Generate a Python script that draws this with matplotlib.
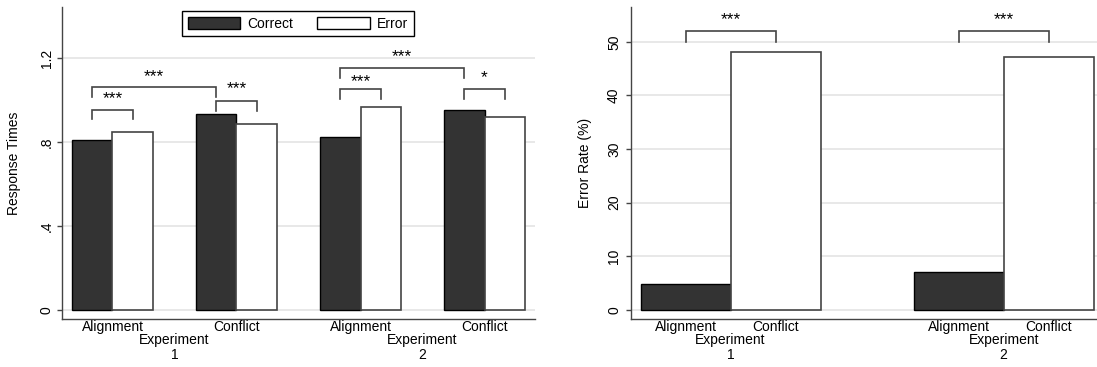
import matplotlib
matplotlib.use("Agg")
import matplotlib.pyplot as plt
from matplotlib.patches import Patch
import numpy as np

plt.rcParams['font.family'] = ['Liberation Sans', 'DejaVu Sans']

# ---- data ----
experiments = ['1', '2']
conditions = ['Alignment', 'Conflict']
rt_correct = [0.81, 0.933, 0.822, 0.954]   # Exp1 Align, Exp1 Conf, Exp2 Align, Exp2 Conf
rt_error = [0.845, 0.883, 0.964, 0.919]
er_alignment = [4.8, 7.0]    # error rate (%) per experiment
er_conflict = [48.1, 47.1]
rt_yticks = [0, 0.4, 0.8, 1.2]
rt_yticklabels = ['0', '.4', '.8', '1.2']
er_yticks = [0, 10, 20, 30, 40, 50]

# significance comparisons (left): (bar_a, bar_b, top, leg_bottom, label, label_y)
# bar index: (group, 0=correct/1=error)
rt_sig = [
    ((0, 0), (0, 1), 0.954, 0.907, '***', 1.026),
    ((0, 0), (1, 0), 1.062, 1.014, '***', 1.129),
    ((1, 0), (1, 1), 0.994, 0.945, '***', 1.075),
    ((2, 0), (2, 1), 1.054, 1.003, '***', 1.105),
    ((2, 0), (3, 0), 1.152, 1.105, '***', 1.226),
    ((3, 0), (3, 1), 1.054, 1.003, '*', 1.126),
]
er_sig = [
    (0, 52.0, 50.0, '***', 54.85),
    (1, 52.0, 50.0, '***', 54.85),
]

DARK = '#333333'
GRID = '#e4e4e4'
LINE = '#444444'
W = 0.33
STAR_FS = 12.5
STAR_OFF = -2.9

fig = plt.figure(figsize=(10.97, 3.67), dpi=100)
axL = fig.add_axes([62/1097, 1-318.7/367, (535-62)/1097, (318.7-7)/367])
axR = fig.add_axes([630.7/1097, 1-318.7/367, (1097-630.7)/1097, (318.7-7)/367])

def style(ax):
    for s in ['top', 'right']:
        ax.spines[s].set_visible(False)
    for s in ['left', 'bottom']:
        ax.spines[s].set_color(LINE)
        ax.spines[s].set_linewidth(1.0)
    ax.set_axisbelow(True)
    ax.yaxis.grid(True, color=GRID, linewidth=1.2)
    ax.tick_params(axis='x', length=0, pad=1, labelsize=10)
    ax.tick_params(axis='y', length=3.4, width=1.0, color=LINE, labelsize=10,
                   labelrotation=90)

# ---- left panel ----
x = np.arange(len(rt_correct))
axL.bar(x - W/2, rt_correct, W, color=DARK, edgecolor='black', linewidth=1.0, zorder=2)
axL.bar(x + W/2, rt_error, W, color='white', edgecolor=LINE, linewidth=1.2, zorder=2)
axL.set_xlim(-0.407, 3.407)
axL.set_ylim(-0.043, 1.443)
axL.set_yticks(rt_yticks)
axL.set_yticklabels(rt_yticklabels)
axL.set_xticks(x)
axL.set_xticklabels(conditions * len(experiments))
style(axL)
axL.tick_params(axis='y', pad=2.6)
for lab in axL.get_yticklabels():
    lab.set_va('center')
axL.set_ylabel('Response Times', fontsize=10)
axL.yaxis.set_label_coords(-0.0877, 0.5)

def barx(b):
    g, k = b
    return g - W/2 if k == 0 else g + W/2

for a, b, top, leg, lab, ly in rt_sig:
    xa, xb = barx(a), barx(b)
    axL.plot([xa, xa, xb, xb], [leg, top, top, leg], color=LINE, lw=1.2, zorder=3,
             solid_joinstyle='miter')
    axL.annotate(lab, xy=((xa+xb)/2, ly), xytext=(0, STAR_OFF), textcoords='offset points',
                 ha='center', va='center', fontsize=STAR_FS)

for i, e in enumerate(experiments):
    gx = 2*i + 0.5
    for txt, off in (('Experiment', -15.3), (e, -26.1)):
        axL.annotate(txt, xy=(gx, 0), xycoords=('data', 'axes fraction'),
                     xytext=(0, off), textcoords='offset points',
                     ha='center', va='center', fontsize=10)

axL.legend(handles=[Patch(facecolor=DARK, edgecolor='black', linewidth=1.0, label='Correct'),
                    Patch(facecolor='white', edgecolor='black', linewidth=1.0, label='Error')],
           ncol=2, loc='center', bbox_to_anchor=(298/1097, 1-23.5/367),
           bbox_transform=fig.transFigure, frameon=True, fancybox=False,
           edgecolor='black', framealpha=1, fontsize=10,
           handlelength=3.75, handleheight=0.95, handletextpad=0.55,
           columnspacing=1.75, borderpad=0.38, borderaxespad=0)
axL.get_legend().get_frame().set_linewidth(1.0)

# ---- right panel ----
xe = np.arange(len(experiments))
axR.bar(xe - W/2, er_alignment, W, color=DARK, edgecolor='black', linewidth=1.0, zorder=2)
axR.bar(xe + W/2, er_conflict, W, color='white', edgecolor=LINE, linewidth=1.2, zorder=2)
axR.set_xlim(-0.366, 1.342)
axR.set_ylim(-1.68, 56.5)
axR.set_yticks(er_yticks)
xt = []
for g in xe:
    xt += [g - W/2, g + W/2]
axR.set_xticks(xt)
axR.set_xticklabels(conditions * len(experiments))
style(axR)
axR.tick_params(axis='y', pad=3.5)
for lab in axR.get_yticklabels():
    lab.set_va('center')
axR.set_ylabel('Error Rate (%)', fontsize=10)
axR.yaxis.set_label_coords(-0.083, 0.5)

for g, top, leg, lab, ly in er_sig:
    xa, xb = g - W/2, g + W/2
    axR.plot([xa, xa, xb, xb], [leg, top, top, leg], color=LINE, lw=1.2, zorder=3,
             solid_joinstyle='miter')
    axR.annotate(lab, xy=(g, ly), xytext=(0, STAR_OFF), textcoords='offset points',
                 ha='center', va='center', fontsize=STAR_FS)

for i, e in enumerate(experiments):
    for txt, off in (('Experiment', -15.3), (e, -26.1)):
        axR.annotate(txt, xy=(i, 0), xycoords=('data', 'axes fraction'),
                     xytext=(0, off), textcoords='offset points',
                     ha='center', va='center', fontsize=10)

fig.savefig('out.png', dpi=100)
